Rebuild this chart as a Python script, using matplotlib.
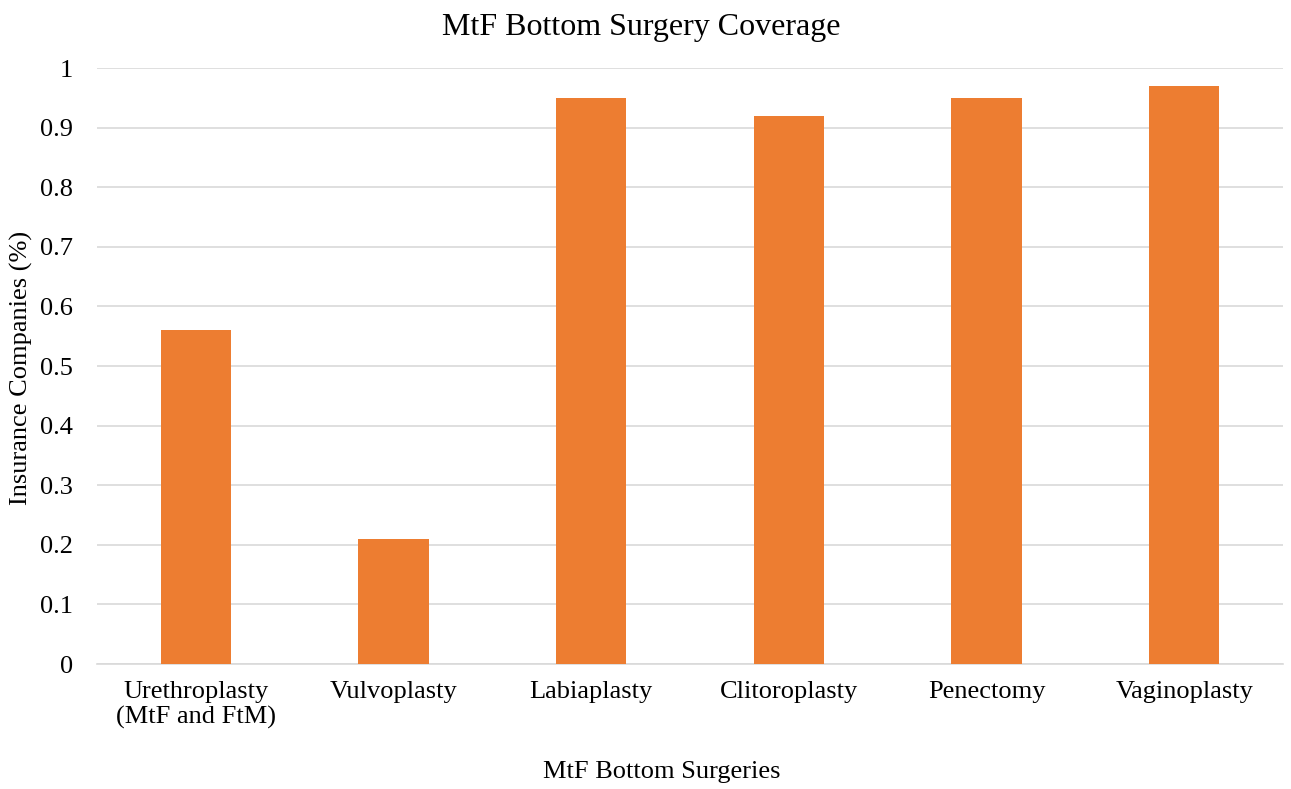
import matplotlib
matplotlib.use("Agg")
import matplotlib.pyplot as plt

# 数据
categories = ["Urethroplasty\n(MtF and FtM)", "Vulvoplasty", "Labiaplasty",
              "Clitoroplasty", "Penectomy", "Vaginoplasty"]
coverage = [0.56, 0.21, 0.95, 0.92, 0.95, 0.97]
yticks = [0, 0.1, 0.2, 0.3, 0.4, 0.5, 0.6, 0.7, 0.8, 0.9, 1]
ytick_labels = ["0", "0.1", "0.2", "0.3", "0.4", "0.5", "0.6", "0.7", "0.8", "0.9", "1"]

plt.rcParams["font.family"] = ["Liberation Serif", "DejaVu Serif"]

fig = plt.figure(figsize=(12.91, 7.89), dpi=100)
ax = fig.add_axes([0.0751, 0.1584, 0.9187, 0.7554])

x = range(len(categories))
ax.bar(x, coverage, width=0.355, color="#ED7D31", zorder=3)

ax.set_xlim(-0.5, len(categories) - 0.5)
ax.set_ylim(0, 1)
ax.set_yticks(yticks)
ax.set_yticklabels(ytick_labels, fontsize=19)
ax.set_xticks(list(x))
ax.set_xticklabels(categories, fontsize=19, linespacing=1.2)
ax.tick_params(axis="x", length=0, pad=12)
ax.tick_params(axis="y", length=0, pad=17)

ax.grid(axis="y", color="#D9D9D9", linewidth=1.2, zorder=0)
for s in ["top", "right", "left"]:
    ax.spines[s].set_visible(False)
ax.spines["bottom"].set_color("#D9D9D9")
ax.spines["bottom"].set_linewidth(1.2)

# 标题和坐标轴标题按整张图居中（和原图一样）
fig.text(0.497, 1 - 27 / 789, "MtF Bottom Surgery Coverage", fontsize=23,
         ha="center", va="center")
fig.text(662 / 1291, 1 - 772 / 789, "MtF Bottom Surgeries", fontsize=19,
         ha="center", va="center")
fig.text(21 / 1291, 1 - 368 / 789, "Insurance Companies (%)", fontsize=19,
         ha="center", va="center", rotation=90)

fig.savefig("out.png", dpi=100)
